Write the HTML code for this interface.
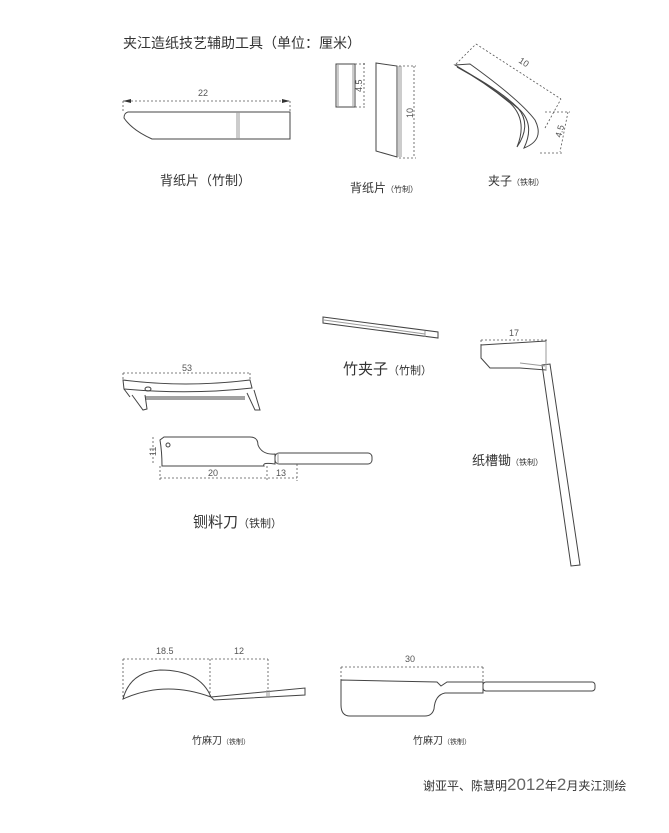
<!DOCTYPE html>
<html><head><meta charset="utf-8"><style>
html,body{margin:0;padding:0;background:#fff}
svg{display:block}
text{font-family:"Liberation Sans","Noto Sans CJK SC",sans-serif;fill:#333}
.l{fill:none;stroke:#444;stroke-width:1}
.g{fill:none;stroke:#999;stroke-width:1}
.d{fill:none;stroke:#555;stroke-width:0.8;stroke-dasharray:2,2}
.n{font-size:9px;fill:#555}
</style></head><body>
<svg width="669" height="833" viewBox="0 0 669 833">
<text x="123" y="48" font-size="14">夹江造纸技艺辅助工具（单位：厘米）</text>

<path class="d" d="M123 101H290M123 101V112M290 101V112"/>
<path d="M123 101l8-2v4zM290 101l-8-2v4z" fill="#333"/>
<text class="n" x="198" y="96" font-size="11">22</text>
<path class="l" d="M128 112H290V139H152Q132 130 124 118Q124 113 128 112Z"/>
<path class="g" d="M237 112V139M239 112V139"/>
<text x="160" y="185" font-size="13">背纸片（竹制）</text>

<rect class="l" x="336" y="64" width="19" height="43"/>
<path class="g" d="M338 64V107M353 64V107"/>
<path class="d" d="M364 63V107M355 64H366M355 107H366"/>
<text class="n" transform="translate(362 92) rotate(-90)">4.5</text>
<path class="l" d="M376 63L397 66V157L376 151Z"/>
<path class="g" d="M399 66V157M401 66V157"/>
<path class="d" d="M414 66V158M399 66H416M399 158H416"/>
<text class="n" transform="translate(413 118) rotate(-90)">10</text>
<text x="350" y="192" font-size="12">背纸片<tspan font-size="8">（竹制）</tspan></text>

<path class="d" d="M476 44L561 99M456 64L476 44M545 128L561 99"/>
<text class="n" transform="translate(518 62) rotate(33)" font-size="10">10</text>
<path class="l" d="M455 65L470 64Q520 100 535 120Q545 140 524 148Q535 125 520 110Q490 85 455 65Z"/>
<path class="l" d="M457 67Q500 90 518 108Q532 125 517 147Q528 120 510 103Q485 82 457 67Z"/>
<path class="d" d="M568 112L560 152M545 112H570M540 153H562"/>
<text class="n" transform="translate(561 138) rotate(-75)" font-size="10">4.5</text>
<text x="488" y="185" font-size="12">夹子<tspan font-size="8">（铁制）</tspan></text>

<path class="l" d="M323 317L438 332V338L323 323Z"/>
<path class="g" d="M324 320L425 334M425 331V337"/>
<text x="343" y="374" font-size="15">竹夹子<tspan font-size="11">（竹制）</tspan></text>

<path class="d" d="M123 373H250M123 373V381M250 373V381"/>
<text class="n" x="182" y="371">53</text>
<path class="l" d="M123 380Q185 388 250 380L252 388Q190 395 124 389Z"/>
<path class="l" d="M124 389L130 397M132 395L143 410L147 409L145 395M247 393L255 410L260 410L254 390M145 397H245M145 399H245"/>
<ellipse class="l" cx="148" cy="389" rx="3" ry="2"/>

<path class="l" d="M164 437H250Q258 437 258 445Q262 455 275 454V464Q262 462 264 466H162Q162 452 160 440Z"/>
<rect class="l" x="275" y="453" width="97" height="11" rx="4"/>
<path class="g" d="M278 453V464"/>
<circle class="l" cx="168" cy="445" r="2"/>
<path class="d" d="M160 478H297M160 466V481M267 466V481M297 464V481M153 437V465"/>
<text class="n" x="208" y="476">20</text>
<text class="n" x="276" y="476">13</text>
<text class="n" transform="translate(156 456) rotate(-90)" font-size="7">11</text>
<text x="193" y="527" font-size="15">铡料刀<tspan font-size="11">（铁制）</tspan></text>

<path class="d" d="M481 340H547M481 340V346"/>
<text class="n" x="509" y="336" font-size="8">17</text>
<path class="l" d="M481 345L546 341V370L520 368H490L481 358Z"/>
<path class="l" d="M542 365L550 364L580 565L571 566Z"/>
<path class="g" d="M546 341V370M520 363L545 366"/>
<text x="472" y="465" font-size="13">纸槽锄<tspan font-size="8">（铁制）</tspan></text>

<path class="d" d="M123 659H268M123 659V699M210 659V697M268 659V692"/>
<text class="n" x="156" y="654" font-size="10">18.5</text>
<text class="n" x="234" y="654" font-size="10">12</text>
<path class="l" d="M123 699Q130 672 160 670Q200 670 211 697Q165 680 123 699Z"/>
<path class="l" d="M211 697L305 688V695L214 700Z"/>
<path class="g" d="M267 690V698M269 690V698"/>
<text x="192" y="744" font-size="10">竹麻刀<tspan font-size="7">（铁制）</tspan></text>

<path class="d" d="M341 667H483M341 667V680M483 667V682"/>
<text class="n" x="405" y="662" font-size="10">30</text>
<path class="l" d="M341 680L437 682L441 686L447 682H483V693H445Q435 695 434 709Q432 716 425 716H350Q341 716 341 705Z"/>
<rect class="l" x="483" y="682" width="112" height="9" rx="3"/>
<text x="413" y="744" font-size="10">竹麻刀<tspan font-size="7">（铁制）</tspan></text>

<text x="423" y="790" font-size="12">谢亚平、陈慧明<tspan font-size="17" fill="#666">2012</tspan>年<tspan font-size="17" fill="#666">2</tspan>月夹江测绘</text>
</svg>
</body></html>
